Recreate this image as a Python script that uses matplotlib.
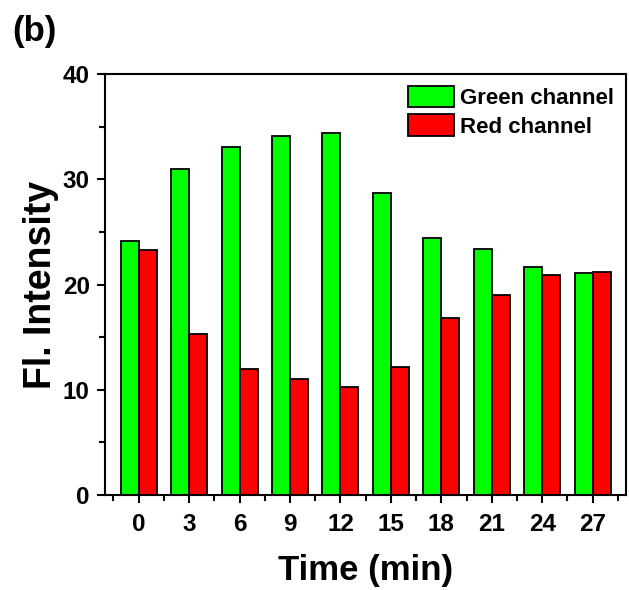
import matplotlib
matplotlib.use("Agg")
import matplotlib.pyplot as plt
import numpy as np
from matplotlib.ticker import MultipleLocator

times = [0, 3, 6, 9, 12, 15, 18, 21, 24, 27]
green = [24.1, 31.0, 33.1, 34.1, 34.4, 28.7, 24.4, 23.4, 21.7, 21.1]
red = [23.3, 15.3, 12.0, 11.0, 10.3, 12.2, 16.8, 19.0, 20.9, 21.2]
series_labels = ["Green channel", "Red channel"]

plt.rcParams['font.family'] = ['Liberation Sans', 'DejaVu Sans']
plt.rcParams['font.weight'] = 'bold'

fig = plt.figure(figsize=(6.29, 5.90), dpi=100)
ax = fig.add_axes([105/629, 1-495/590, (626-105)/629, (495-74)/590])

x = np.array(times, dtype=float)
w = 1.07
ax.bar(x - w/2, green, width=w, color='#00ff00', edgecolor='black', linewidth=1.3, label=series_labels[0])
ax.bar(x + w/2, red, width=w, color='#ff0000', edgecolor='black', linewidth=1.3, label=series_labels[1])

ax.set_xlim(-2.0, 28.98)
ax.set_ylim(0, 40)
ax.set_xticks(times)
ax.set_xticklabels([str(t) for t in times])
ax.set_xticks([t + 1.5 for t in [-3] + times], minor=True)
ax.yaxis.set_major_locator(MultipleLocator(10))
ax.yaxis.set_minor_locator(MultipleLocator(5))

for s in ax.spines.values():
    s.set_linewidth(1.5)
ax.tick_params(which='major', direction='out', length=6, width=1.5, labelsize=17.5)
ax.tick_params(axis='x', which='major', pad=7)
ax.tick_params(axis='y', which='major', pad=5)
ax.tick_params(which='minor', direction='out', length=4, width=1.5)
for lab in ax.get_xticklabels() + ax.get_yticklabels():
    lab.set_fontweight('bold')

ax.set_xlabel("Time (min)", fontsize=25, fontweight='bold', labelpad=13)
ax.set_ylabel("Fl. Intensity", fontsize=27, fontweight='bold', labelpad=3)

leg = ax.legend(loc='upper right', frameon=False, fontsize=16,
                handlelength=2.07, handleheight=1.12, labelspacing=0.25,
                handletextpad=0.3, borderaxespad=0.12)
for t in leg.get_texts():
    t.set_fontweight('bold')

fig.text(12/629, 1-31/590, "(b)", fontsize=25, fontweight='bold', va='center', ha='left')

fig.savefig("out.png", dpi=100)
